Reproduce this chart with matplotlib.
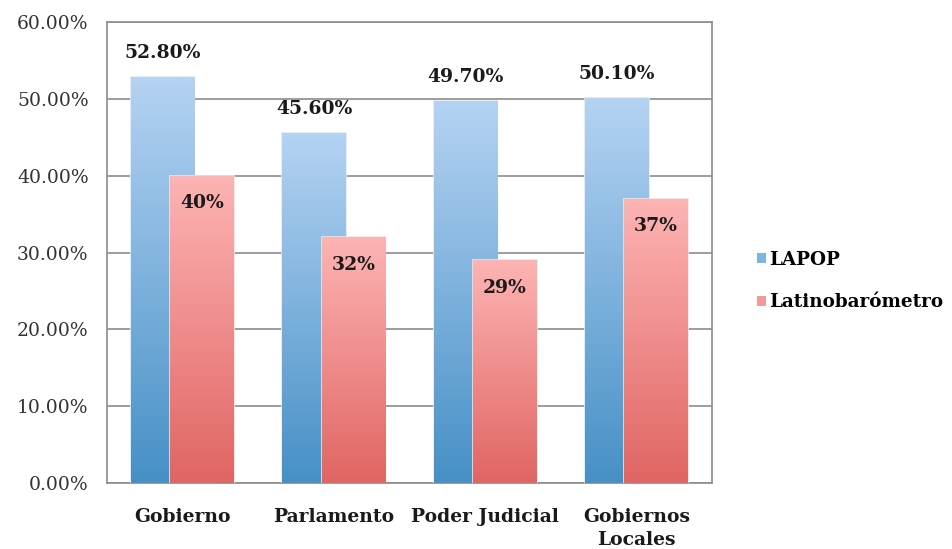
import numpy as np
import matplotlib
matplotlib.use("Agg")
import matplotlib.pyplot as plt
from matplotlib.colors import LinearSegmentedColormap
from matplotlib.patches import Patch

categories = ["Gobierno", "Parlamento", "Poder Judicial", "Gobiernos\nLocales"]
lapop = [52.8, 45.6, 49.7, 50.1]
latino = [40, 32, 29, 37]
lapop_labels = ["52.80%", "45.60%", "49.70%", "50.10%"]
latino_labels = ["40%", "32%", "29%", "37%"]

plt.rcParams['font.family'] = ['DejaVu Serif']

blue_cmap = LinearSegmentedColormap.from_list("b", ["#4690c6", "#b5d3f3"])
red_cmap = LinearSegmentedColormap.from_list("r", ["#e06563", "#fdb4b4"])

fig = plt.figure(figsize=(9.52, 5.49), dpi=100)
ax = fig.add_axes([0.112, 0.120, 0.636, 0.840])

x = np.arange(len(categories))
width = 0.42
offset = 0.13
grad = np.linspace(0, 1, 256).reshape(-1, 1)


def gradient_bar(xc, h, cmap):
    bar = ax.bar(xc, h, width, color="none", edgecolor="#e8e8e8", linewidth=1.2, zorder=3)[0]
    im = ax.imshow(grad, cmap=cmap, origin="lower", aspect="auto",
                   extent=(xc - width / 2, xc + width / 2, 0, h), zorder=3)
    im.set_clip_path(bar)


for i in range(len(categories)):
    gradient_bar(x[i] - offset, lapop[i], blue_cmap)
    ax.text(x[i] - offset, lapop[i] + 3.1, lapop_labels[i], ha="center", va="center",
            fontsize=13.5, fontweight="bold", color="#1a1a1a", zorder=5)
for i in range(len(categories)):
    gradient_bar(x[i] + offset, latino[i], red_cmap)
    ax.text(x[i] + offset, latino[i] - 3.6, latino_labels[i], ha="center", va="center",
            fontsize=13.5, fontweight="bold", color="#1a1a1a", zorder=5)

ax.set_xlim(-0.5, 3.5)
ax.set_ylim(0, 60)
ax.set_yticks(np.arange(0, 61, 10))
ax.set_yticklabels(["%.2f%%" % v for v in np.arange(0, 61, 10)], fontsize=13.5, color="#333333")
ax.set_xticks(x)
ax.set_xticklabels(categories, fontsize=13.5, fontweight="bold", color="#1a1a1a",
                   linespacing=1.35)
ax.tick_params(axis="x", length=0, pad=18)
ax.tick_params(axis="y", length=0, pad=13)
ax.yaxis.grid(True, color="#8c8c8c", linewidth=1.2, zorder=0)
ax.set_axisbelow(True)
for s in ax.spines.values():
    s.set_color("#8c8c8c")
    s.set_linewidth(1.2)

handles = [Patch(facecolor="#7fb3e0", label="LAPOP"),
           Patch(facecolor="#f29a9a", label="Latinobarómetro")]
fig.legend(handles=handles, loc="center left", bbox_to_anchor=(0.784, 0.488), frameon=False,
           prop={"weight": "bold", "size": 13.2}, handlelength=0.45, handleheight=0.45,
           handletextpad=0.2, labelspacing=1.35, borderaxespad=0.2)

fig.savefig("out.png", dpi=100)
